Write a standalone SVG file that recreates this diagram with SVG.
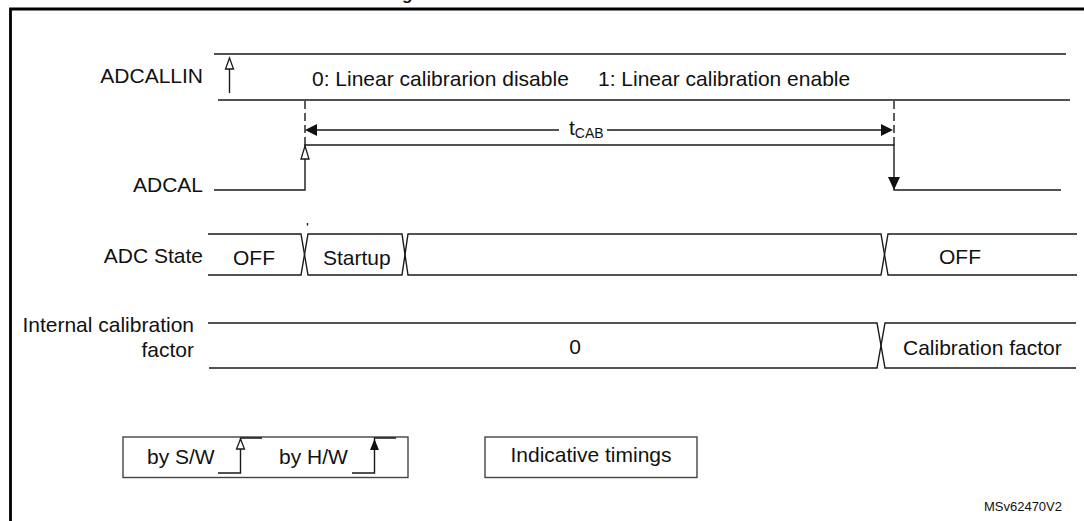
<svg xmlns="http://www.w3.org/2000/svg" width="1084" height="521" viewBox="0 0 1084 521">
<style>
  text { font-family: "Liberation Sans", Arial, sans-serif; font-size: 21px; fill: #111; }
  .lbl { text-anchor: end; }
  .sig { fill: none; stroke: #1a1a1a; stroke-width: 1.4; }
  .dash { fill: none; stroke: #1a1a1a; stroke-width: 1.4; stroke-dasharray: 8 4; }
  .open { fill: #fff; stroke: #1a1a1a; stroke-width: 1.3; }
  .solid { fill: #111; stroke: none; }
  .box { fill: #fff; stroke: #444; stroke-width: 1.4; }
</style>
<rect width="1084" height="521" fill="#fff"/>
<g id="frame">
  <path d="M10.5 521 V9 H1084" fill="none" stroke="#000" stroke-width="2.8"/>
  <text x="402" y="-0.5" style="font-size:17px;font-weight:bold">g</text>
</g>

<g id="adcallin">
  <text class="lbl" x="203" y="83">ADCALLIN</text>
  <path class="sig" d="M214 54 H1066 M218 100 H1070"/>
  <path class="sig" d="M229.5 69 V93"/>
  <polygon class="open" points="229.5,58 233.5,69 225.5,69"/>
  <text x="312" y="86">0: Linear calibrarion disable</text>
  <text x="598" y="86">1: Linear calibration enable</text>
</g>

<g id="adcal">
  <text class="lbl" x="203" y="192">ADCAL</text>
  <path class="sig" d="M214 190 H305 V145 H894 V190 H1061"/>
  <polygon class="open" points="305,146 309,159 301,159"/>
  <polygon class="solid" points="894,190 888,177 900,177"/>
</g>

<g id="connectors">
  <path class="dash" d="M305 101 V145 M894 101 V145"/>
  <path class="sig" d="M317 130 H559 M607 130 H881"/>
  <polygon class="solid" points="305,130 317,124 317,136"/>
  <polygon class="solid" points="893,130 881,124 881,136"/>
  <text x="569" y="135">t<tspan style="font-size:14px" dy="3">CAB</tspan></text>
</g>

<g id="adc-state">
  <text class="lbl" x="203" y="263">ADC State</text>
  <path class="sig" d="M208 234 H301 L308 275 H402 L408 234 H881 L888 275 H1077"/>
  <path class="sig" d="M208 275 H301 L308 234 H402 L408 275 H881 L888 234 H1077"/>
  <path class="sig" d="M307.5 223 V225.5" stroke-width="1"/>
  <text x="233" y="265">OFF</text>
  <text x="323" y="265">Startup</text>
  <text x="939" y="264">OFF</text>
</g>

<g id="internal-calibration-factor">
  <text class="lbl" x="194" y="332">Internal calibration</text>
  <text class="lbl" x="194" y="357">factor</text>
  <path class="sig" d="M208 323 H877 L885 368 H1076"/>
  <path class="sig" d="M209 368 H877 L885 323 H1076"/>
  <text x="575" y="354" text-anchor="middle">0</text>
  <text x="903" y="355">Calibration factor</text>
</g>

<g id="legend-trigger">
  <rect class="box" x="123" y="437" width="285" height="40.5"/>
  <text x="147" y="464">by S/W</text>
  <path class="sig" d="M218 473 H240.5 V438 H262"/>
  <polygon class="open" points="240.5,439 244.5,449 236.5,449"/>
  <text x="279" y="464">by H/W</text>
  <path class="sig" d="M352 473 H374.5 V438 H396"/>
  <polygon class="solid" points="374.5,439 379,450 370,450"/>
</g>

<g id="legend-timings">
  <rect class="box" x="485" y="437" width="212" height="40.5"/>
  <text x="591" y="462" text-anchor="middle">Indicative timings</text>
</g>

<g id="ref">
  <text x="1062" y="511" text-anchor="end" style="font-size:13px">MSv62470V2</text>
</g>
</svg>
